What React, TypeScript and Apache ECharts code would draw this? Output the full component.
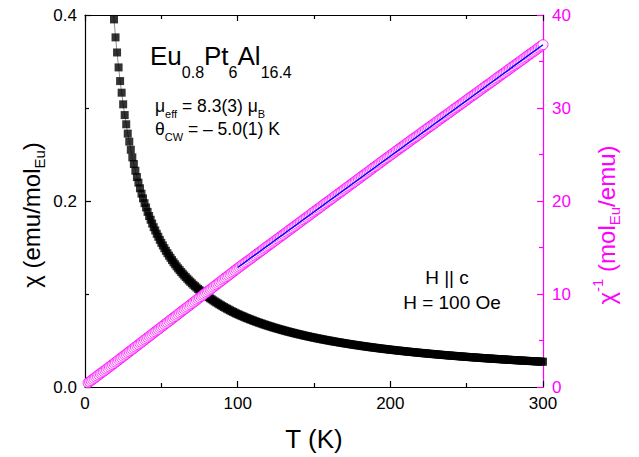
import React, { useEffect, useRef } from "react";
import * as echarts from "echarts";

// Temperature (K) of each measured point
const temperatureK = [
  2, 3, 4, 5, 6, 7, 8, 9, 10, 11, 12, 13, 14, 15, 16, 17, 18, 19, 20,
  21, 22, 23, 24, 25, 26, 27, 28, 29, 30, 31, 32, 33, 34, 35, 36, 37, 38, 39, 40,
  41, 42, 43, 44, 45, 46, 47, 48, 49, 50, 51, 52, 53, 54, 55, 56, 57, 58, 59, 60,
  61, 62, 63, 64, 65, 66, 67, 68, 69, 70, 71, 72, 73, 74, 75, 76, 77, 78, 79, 80,
  81, 82, 83, 84, 85, 86, 87, 88, 89, 90, 91, 92, 93, 94, 95, 96, 97, 98, 99, 100,
  101, 102, 103, 104, 105, 106, 107, 108, 109, 110, 111, 112, 113, 114, 115, 116, 117, 118, 119, 120,
  121, 122, 123, 124, 125, 126, 127, 128, 129, 130, 131, 132, 133, 134, 135, 136, 137, 138, 139, 140,
  141, 142, 143, 144, 145, 146, 147, 148, 149, 150, 151, 152, 153, 154, 155, 156, 157, 158, 159, 160,
  161, 162, 163, 164, 165, 166, 167, 168, 169, 170, 171, 172, 173, 174, 175, 176, 177, 178, 179, 180,
  181, 182, 183, 184, 185, 186, 187, 188, 189, 190, 191, 192, 193, 194, 195, 196, 197, 198, 199, 200,
  201, 202, 203, 204, 205, 206, 207, 208, 209, 210, 211, 212, 213, 214, 215, 216, 217, 218, 219, 220,
  221, 222, 223, 224, 225, 226, 227, 228, 229, 230, 231, 232, 233, 234, 235, 236, 237, 238, 239, 240,
  241, 242, 243, 244, 245, 246, 247, 248, 249, 250, 251, 252, 253, 254, 255, 256, 257, 258, 259, 260,
  261, 262, 263, 264, 265, 266, 267, 268, 269, 270, 271, 272, 273, 274, 275, 276, 277, 278, 279, 280,
  281, 282, 283, 284, 285, 286, 287, 288, 289, 290, 291, 292, 293, 294, 295, 296, 297, 298, 299, 300,
];

// Inverse susceptibility chi^-1 (mol_Eu/emu) read from the magenta circles
const inverseChi = [
  0.45, 0.57, 0.69, 0.82, 0.94, 1.06, 1.18, 1.31, 1.43, 1.55, 1.67, 1.79, 1.92, 2.04, 2.16, 2.28, 2.41, 2.53, 2.66,
  2.78, 2.91, 3.04, 3.16, 3.29, 3.42, 3.54, 3.67, 3.79, 3.92, 4.05, 4.17, 4.30, 4.43, 4.55, 4.68, 4.81, 4.93, 5.06, 5.18,
  5.31, 5.44, 5.56, 5.69, 5.82, 5.94, 6.07, 6.19, 6.32, 6.45, 6.57, 6.70, 6.83, 6.95, 7.08, 7.20, 7.33, 7.46, 7.58, 7.71,
  7.84, 7.96, 8.09, 8.21, 8.34, 8.46, 8.59, 8.72, 8.84, 8.97, 9.10, 9.22, 9.35, 9.48, 9.60, 9.73, 9.86, 9.98, 10.11, 10.23,
  10.36, 10.49, 10.61, 10.74, 10.87, 10.99, 11.12, 11.25, 11.37, 11.50, 11.63, 11.75, 11.88, 12.00, 12.13, 12.26, 12.38, 12.51, 12.64, 12.76,
  12.88, 13.00, 13.12, 13.24, 13.37, 13.49, 13.61, 13.73, 13.85, 13.97, 14.10, 14.22, 14.34, 14.46, 14.58, 14.70, 14.83, 14.95, 15.07, 15.19,
  15.31, 15.43, 15.56, 15.68, 15.80, 15.92, 16.04, 16.16, 16.28, 16.40, 16.53, 16.65, 16.77, 16.89, 17.01, 17.13, 17.26, 17.38, 17.50, 17.62,
  17.74, 17.86, 17.99, 18.11, 18.23, 18.35, 18.47, 18.59, 18.72, 18.84, 18.96, 19.08, 19.20, 19.32, 19.45, 19.57, 19.69, 19.81, 19.93, 20.05,
  20.17, 20.29, 20.42, 20.54, 20.66, 20.78, 20.90, 21.02, 21.15, 21.27, 21.39, 21.51, 21.63, 21.75, 21.88, 22.00, 22.12, 22.24, 22.36, 22.48,
  22.61, 22.73, 22.85, 22.97, 23.09, 23.21, 23.34, 23.46, 23.58, 23.70, 23.82, 23.94, 24.07, 24.19, 24.31, 24.43, 24.55, 24.67, 24.79, 24.91,
  25.03, 25.15, 25.27, 25.39, 25.51, 25.62, 25.74, 25.86, 25.98, 26.10, 26.22, 26.34, 26.46, 26.58, 26.70, 26.81, 26.93, 27.05, 27.17, 27.29,
  27.41, 27.53, 27.65, 27.77, 27.89, 28.00, 28.12, 28.24, 28.36, 28.48, 28.60, 28.72, 28.84, 28.96, 29.08, 29.19, 29.31, 29.43, 29.55, 29.67,
  29.79, 29.91, 30.03, 30.14, 30.26, 30.38, 30.50, 30.62, 30.74, 30.86, 30.98, 31.10, 31.22, 31.33, 31.45, 31.57, 31.69, 31.81, 31.93, 32.05,
  32.17, 32.29, 32.41, 32.52, 32.64, 32.76, 32.88, 33.00, 33.12, 33.24, 33.36, 33.48, 33.60, 33.71, 33.83, 33.95, 34.07, 34.19, 34.31, 34.43,
  34.55, 34.67, 34.79, 34.90, 35.02, 35.14, 35.26, 35.38, 35.50, 35.62, 35.74, 35.86, 35.98, 36.09, 36.21, 36.33, 36.45, 36.57, 36.69, 36.81,
];

// Curie-Weiss fit line (blue)
const fitT = [100, 300];
const fitInverseChi = [12.85, 36.8];

const FONT = "'Liberation Sans', Arial, Helvetica, sans-serif";
const MAGENTA = "#ff00ff";

export default function App() {
  const ref = useRef<HTMLDivElement>(null);

  useEffect(() => {
    document.body.style.margin = "0";
    if (!ref.current) return;
    const chart = echarts.init(ref.current, undefined, { renderer: "svg" });

    const chiData = temperatureK.map((t, i) => [t, 1 / inverseChi[i]]);
    const invData = temperatureK.map((t, i) => [t, inverseChi[i]]);
    const fitData = fitT.map((t, i) => [t, fitInverseChi[i]]);

    const axisCommon = (color: string) => ({
      axisLine: { show: true, onZero: false, lineStyle: { color, width: 1.2 } },
      axisTick: { show: true, inside: true, length: 6, lineStyle: { color, width: 1.2 } },
      minorTick: { show: true, splitNumber: 2, length: 4, lineStyle: { color, width: 1.2 } },
      splitLine: { show: false },
      minorSplitLine: { show: false },
    });

    const rich = (color: string, main: number, mainLH: number, sub: number) => ({
      m: { fontSize: main, lineHeight: mainLH, fontFamily: FONT, fill: color, verticalAlign: "middle" },
      s: { fontSize: sub, fontFamily: FONT, fill: color, verticalAlign: "bottom" },
      p: { fontSize: sub, fontFamily: FONT, fill: color, verticalAlign: "top" },
    });

    chart.setOption({
      animation: false,
      backgroundColor: "#ffffff",
      grid: { left: 85, right: 96, top: 15, bottom: 70, containLabel: false },
      xAxis: [
        {
          type: "value",
          position: "bottom",
          min: 0,
          max: 300,
          interval: 100,
          ...axisCommon("#000"),
          axisLabel: { color: "#000", fontSize: 17, fontFamily: FONT, margin: 8 },
        },
        {
          type: "value",
          position: "top",
          min: 0,
          max: 300,
          interval: 100,
          ...axisCommon("#000"),
          axisLabel: { show: false },
        },
      ],
      yAxis: [
        {
          type: "value",
          position: "left",
          min: 0,
          max: 0.4,
          interval: 0.2,
          ...axisCommon("#000"),
          axisLabel: {
            color: "#000",
            fontSize: 17,
            fontFamily: FONT,
            margin: 8,
            formatter: (v: number) => v.toFixed(1),
          },
        },
        {
          type: "value",
          position: "right",
          min: 0,
          max: 40,
          interval: 10,
          ...axisCommon(MAGENTA),
          axisLabel: { color: MAGENTA, fontSize: 17, fontFamily: FONT, margin: 9 },
        },
      ],
      series: [
        {
          type: "line",
          data: chiData,
          xAxisIndex: 0,
          yAxisIndex: 0,
          symbol: "none",
          clip: true,
          lineStyle: { color: "#444", width: 0.6 },
          z: 1,
        },
        {
          type: "scatter",
          data: chiData,
          xAxisIndex: 0,
          yAxisIndex: 0,
          symbol: "rect",
          symbolSize: 8,
          clip: true,
          itemStyle: { color: "#000" },
          z: 2,
        },
        {
          type: "scatter",
          data: invData,
          xAxisIndex: 0,
          yAxisIndex: 1,
          symbol: "circle",
          symbolSize: 10,
          clip: true,
          itemStyle: { color: "#ffffff", borderColor: MAGENTA, borderWidth: 1 },
          z: 3,
        },
        {
          type: "line",
          data: fitData,
          xAxisIndex: 0,
          yAxisIndex: 1,
          symbol: "none",
          lineStyle: { color: "#0000ff", width: 1.5 },
          z: 4,
        },
      ],
      graphic: [
        {
          type: "text",
          x: 31,
          y: 215,
          rotation: Math.PI / 2,
          style: {
            text: "{m|χ (emu/mol}{s|Eu}{m|)}",
            align: "center",
            verticalAlign: "middle",
            fill: "#000",
            fontFamily: FONT,
            rich: rich("#000", 24, 32, 15),
          },
        },
        {
          type: "text",
          x: 606,
          y: 225,
          rotation: Math.PI / 2,
          style: {
            text: "{m|χ}{p|-1}{m| (mol}{s|Eu}{m|/emu)}",
            align: "center",
            verticalAlign: "middle",
            fill: MAGENTA,
            fontFamily: FONT,
            rich: rich(MAGENTA, 24, 32, 15),
          },
        },
        {
          type: "text",
          x: 314,
          y: 439,
          style: {
            text: "T (K)",
            align: "center",
            verticalAlign: "middle",
            fill: "#000",
            fontSize: 26,
            fontFamily: FONT,
          },
        },
        {
          type: "text",
          x: 150,
          y: 56,
          style: {
            text: "{m|Eu}{s|0.8}{m|Pt}{s|6}{m|Al}{s|16.4}",
            align: "left",
            verticalAlign: "middle",
            fill: "#000",
            fontFamily: FONT,
            rich: rich("#000", 26, 48, 16),
          },
        },
        {
          type: "text",
          x: 155,
          y: 106,
          style: {
            text: "{m|μ}{s|eff}{m| = 8.3(3) μ}{s|B}",
            align: "left",
            verticalAlign: "middle",
            fill: "#000",
            fontFamily: FONT,
            rich: rich("#000", 17.5, 27, 11),
          },
        },
        {
          type: "text",
          x: 155,
          y: 129,
          style: {
            text: "{m|θ}{s|CW}{m| = – 5.0(1) K}",
            align: "left",
            verticalAlign: "middle",
            fill: "#000",
            fontFamily: FONT,
            rich: rich("#000", 17.5, 26, 11),
          },
        },
        {
          type: "text",
          x: 447,
          y: 277,
          style: {
            text: "H || c",
            align: "center",
            verticalAlign: "middle",
            fill: "#000",
            fontSize: 19,
            fontFamily: FONT,
          },
        },
        {
          type: "text",
          x: 452,
          y: 302,
          style: {
            text: "H = 100 Oe",
            align: "center",
            verticalAlign: "middle",
            fill: "#000",
            fontSize: 19,
            fontFamily: FONT,
          },
        },
      ],
    });

    return () => {
      chart.dispose();
    };
  }, []);

  return <div ref={ref} style={{ width: 639, height: 457 }} />;
}
